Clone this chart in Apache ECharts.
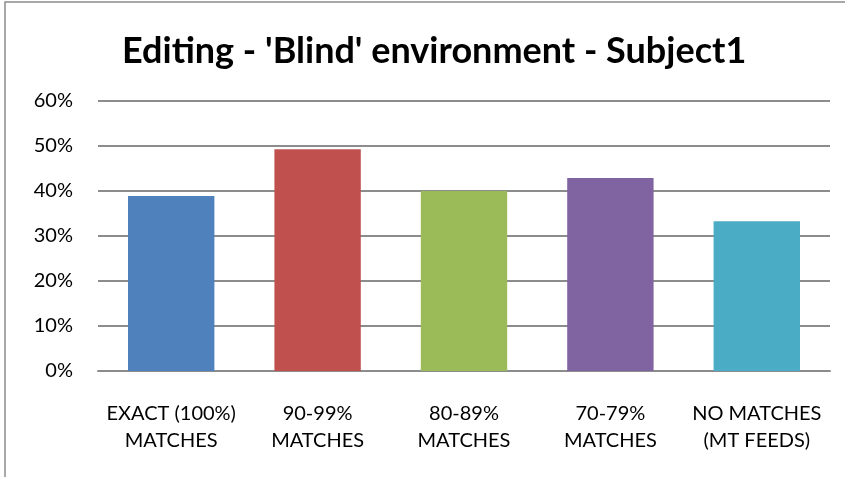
<!DOCTYPE html>
<html>
<head>
<meta charset="utf-8">
<script src="https://cdn.jsdelivr.net/npm/echarts@6/dist/echarts.min.js"></script>
<style>
  html, body { margin: 0; padding: 0; background: #fff; }
  #chart { width: 845px; height: 477px; }
</style>
</head>
<body>
<div id="chart"></div>
<script>
// Share of segments edited, by match category
const categories = ['EXACT (100%)\nMATCHES', '90-99%\nMATCHES', '80-89%\nMATCHES', '70-79%\nMATCHES', 'NO MATCHES\n(MT FEEDS)'];
const values = [38.9, 49.3, 40.0, 42.9, 33.3];
const barColors = ['#4F81BD', '#C0504D', '#9BBB59', '#8064A2', '#4BACC6'];
const yTicks = { min: 0, max: 60, interval: 10 };

const font = 'Lato, "Open Sans", sans-serif';
const chart = echarts.init(document.getElementById('chart'), null, { renderer: 'canvas' });

chart.setOption({
  animation: false,
  backgroundColor: '#fff',
  title: {
    text: "Editing - 'Blind' environment - Subject1",
    left: 117,
    top: 28,
    textStyle: { fontFamily: font, fontWeight: 'bold', fontSize: 36, color: '#000' }
  },
  graphic: [{
    type: 'rect',
    shape: { x: 5, y: 2, width: 860, height: 500 },
    style: { fill: 'none', stroke: '#8c8c8c', lineWidth: 1.5 },
    silent: true
  }],
  grid: { left: 98, right: 15, top: 101, bottom: 106 },
  xAxis: {
    type: 'category',
    data: categories,
    axisTick: { show: false },
    axisLine: { lineStyle: { color: '#8c8c8c', width: 2 } },
    axisLabel: {
      fontFamily: font, fontSize: 20, color: '#000', margin: 29, lineHeight: 27, interval: 0
    }
  },
  yAxis: {
    type: 'value',
    min: yTicks.min, max: yTicks.max, interval: yTicks.interval,
    axisLine: { show: false },
    axisTick: { show: false },
    splitLine: { lineStyle: { color: '#8c8c8c', width: 2 } },
    axisLabel: {
      fontFamily: font, fontSize: 20, color: '#000', margin: 25,
      formatter: v => v + '%'
    }
  },
  series: [{
    type: 'bar',
    barWidth: '59%',
    data: values.map((v, i) => ({ value: v, itemStyle: { color: barColors[i] } })),
    z: 3
  }]
});
</script>
</body>
</html>
